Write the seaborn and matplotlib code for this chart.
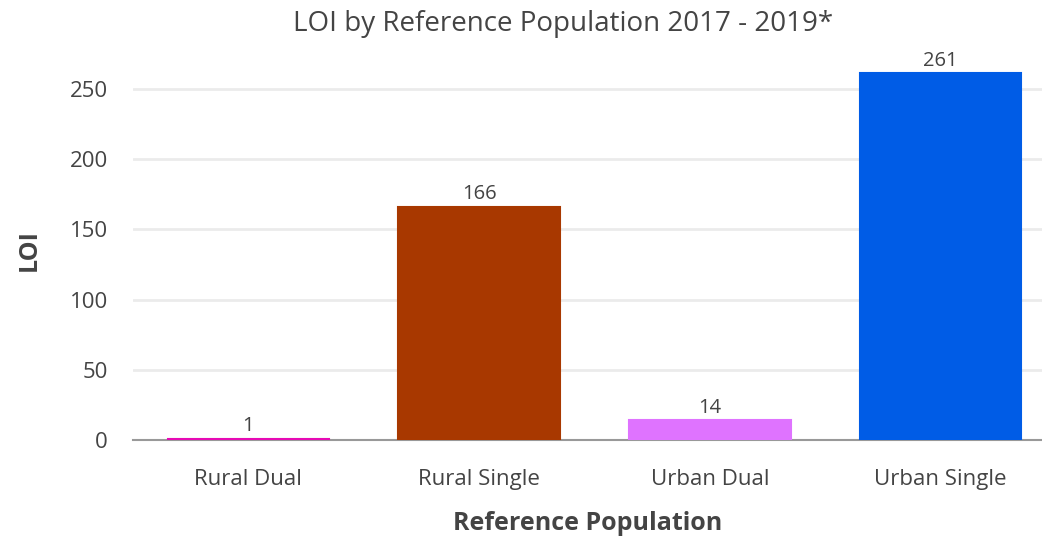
import matplotlib
matplotlib.use("Agg")
import matplotlib.pyplot as plt
import seaborn as sns
import pandas as pd

categories = ["Rural Dual", "Rural Single", "Urban Dual", "Urban Single"]
loi_values = [1, 166, 14, 261]
bar_colors = ["#E60AB4", "#A83800", "#DF73FF", "#005CE6"]

df = pd.DataFrame({"Reference Population": categories, "LOI": loi_values})

sns.set_theme(style="white")
plt.rcParams["font.family"] = ["Open Sans", "DejaVu Sans"]
text_color = "#444444"

fig = plt.figure(figsize=(10.42, 5.40), dpi=100)
ax = fig.add_axes([133 / 1042, 1 - 440 / 540, 1 - 133 / 1042, 380 / 540])

sns.barplot(data=df, x="Reference Population", y="LOI", hue="Reference Population",
            palette=bar_colors, legend=False, width=0.70, saturation=1, ax=ax)
for patch, c in zip(ax.patches, bar_colors):
    patch.set_edgecolor(c)
    patch.set_linewidth(1.5)
    patch.set_zorder(5)

ax.set_ylim(0, 270.6)
ax.set_xlim(-0.5, 3.44)
ax.set_yticks([0, 50, 100, 150, 200, 250])
ax.yaxis.grid(True, color="#ebebeb", linewidth=2)
ax.set_axisbelow(True)
for side in ["top", "right", "left"]:
    ax.spines[side].set_visible(False)
ax.spines["bottom"].set_color("#999999")
ax.spines["bottom"].set_linewidth(1.5)
ax.spines["bottom"].set_zorder(1)
ax.tick_params(axis="x", colors="#999999", length=6, width=1.2, direction="out",
               labelcolor=text_color, labelsize=16, pad=15)
ax.tick_params(axis="y", length=0, labelcolor=text_color, labelsize=16, pad=18)

for patch, v in zip(ax.patches, loi_values):
    ax.annotate(f"{v}", (patch.get_x() + patch.get_width() / 2, v),
                xytext=(0, 2), textcoords="offset points", ha="center", va="bottom",
                fontsize=14.5, color=text_color, zorder=6)

ax.set_xlabel("Reference Population", fontsize=18, fontweight="bold", color=text_color, labelpad=15)
ax.set_ylabel("LOI", fontsize=18, fontweight="bold", color=text_color, labelpad=20)
fig.text(0.54, 0.956, "LOI by Reference Population 2017 - 2019*", ha="center", va="center",
         fontsize=20, color=text_color)

fig.savefig("out.png", dpi=100)
